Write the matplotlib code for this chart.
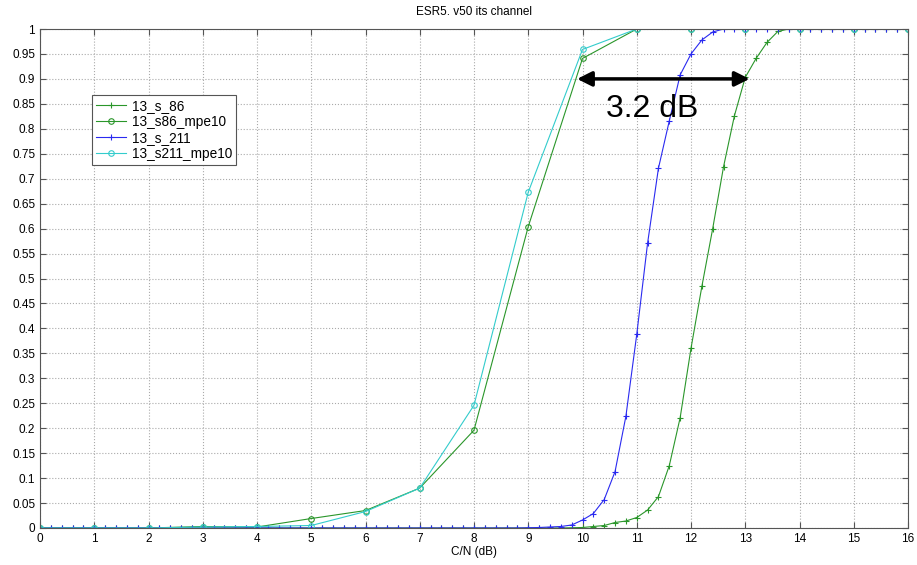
import numpy as np
import matplotlib.pyplot as plt

plt.rcParams['font.family'] = ['Liberation Sans', 'DejaVu Sans']

# fine sweep, 0.2 dB step (0 .. 16)
fine_x = [round(0.2 * i, 1) for i in range(81)]
s211_vals = [0.0] * 45 + [0.0005, 0.001, 0.002, 0.003, 0.006,
                          0.016, 0.029, 0.057, 0.113, 0.224,
                          0.388, 0.571, 0.721, 0.816, 0.908,
                          0.950, 0.978, 0.994, 1.0] + [1.0] * 17
s86_vals = [0.0] * 49 + [0.0005,
                         0.001, 0.003, 0.005, 0.011, 0.014,
                         0.021, 0.036, 0.063, 0.125, 0.221,
                         0.360, 0.484, 0.600, 0.724, 0.826,
                         0.903, 0.941, 0.973, 0.995, 1.0] + [1.0] * 11

# coarse sweep, 1 dB step
coarse_x = list(range(17))
s86_mpe10 = [0, 0, 0, 0.003, 0.002, 0.019, 0.035, 0.080, 0.196, 0.604,
             0.941, 1.0, 1.0, 1.0, 1.0, 1.0, 1.0]
s211_mpe10 = [0, 0, 0, 0.002, 0.003, 0.005, 0.033, 0.080, 0.246, 0.673,
              0.959, 1.0, 1.0, 1.0, 1.0, 1.0, 1.0]

x_ticks = list(range(17))
y_ticks = [round(0.05 * i, 2) for i in range(21)]
y_labels = ['0' if v == 0 else ('1' if v == 1 else f'{v:g}') for v in y_ticks]

arrow_x = (9.9, 13.08)
arrow_y = 0.9

green = '#2a962a'
fig = plt.figure(figsize=(9.17, 5.65), dpi=100)
ax = fig.add_axes([40 / 917, 37 / 565, 868 / 917, 499 / 565])

ax.plot(fine_x, s86_vals, color=green, lw=0.8, marker='+', ms=5, mew=0.8, label='13_s_86')
ax.plot(coarse_x, s86_mpe10, color=green, lw=0.8, marker='o', ms=4, mfc='none', mew=0.8, label='13_s86_mpe10')
ax.plot(fine_x, s211_vals, color='#2a2af0', lw=0.8, marker='+', ms=5, mew=0.8, label='13_s_211')
ax.plot(coarse_x, s211_mpe10, color='#33cccc', lw=0.8, marker='o', ms=4, mfc='none', mew=0.8, label='13_s211_mpe10')

ax.set_xlim(0, 16)
ax.set_ylim(0, 1)
ax.set_xticks(x_ticks)
ax.set_yticks(y_ticks)
ax.set_yticklabels(y_labels)
ax.tick_params(direction='in', top=True, right=True, labelsize=8.5, length=4, color='#555555')
for s in ax.spines.values():
    s.set_color('#555555')
ax.grid(True, linestyle=':', color='#aaaaaa', lw=0.8)

ax.set_title('ESR5. v50 its channel', fontsize=8.5, pad=10)
ax.set_xlabel('C/N (dB)', fontsize=8.5, labelpad=1)

ax.annotate('', xy=(arrow_x[0], arrow_y), xytext=(arrow_x[1], arrow_y),
            arrowprops=dict(arrowstyle='<|-|>', color='black', lw=2.5,
                            mutation_scale=22, shrinkA=0, shrinkB=0))
ax.text(11.28, 0.84, '3.2 dB', fontsize=23, ha='center', va='center')

leg = ax.legend(loc='upper left', bbox_to_anchor=(0.06, 0.868), fontsize=9.8,
                fancybox=False, framealpha=1, edgecolor='#555555',
                handlelength=2.2, handletextpad=0.4, borderpad=0.3,
                labelspacing=0.15, borderaxespad=0)
leg.get_frame().set_linewidth(0.8)

fig.savefig('out.png', dpi=100)
